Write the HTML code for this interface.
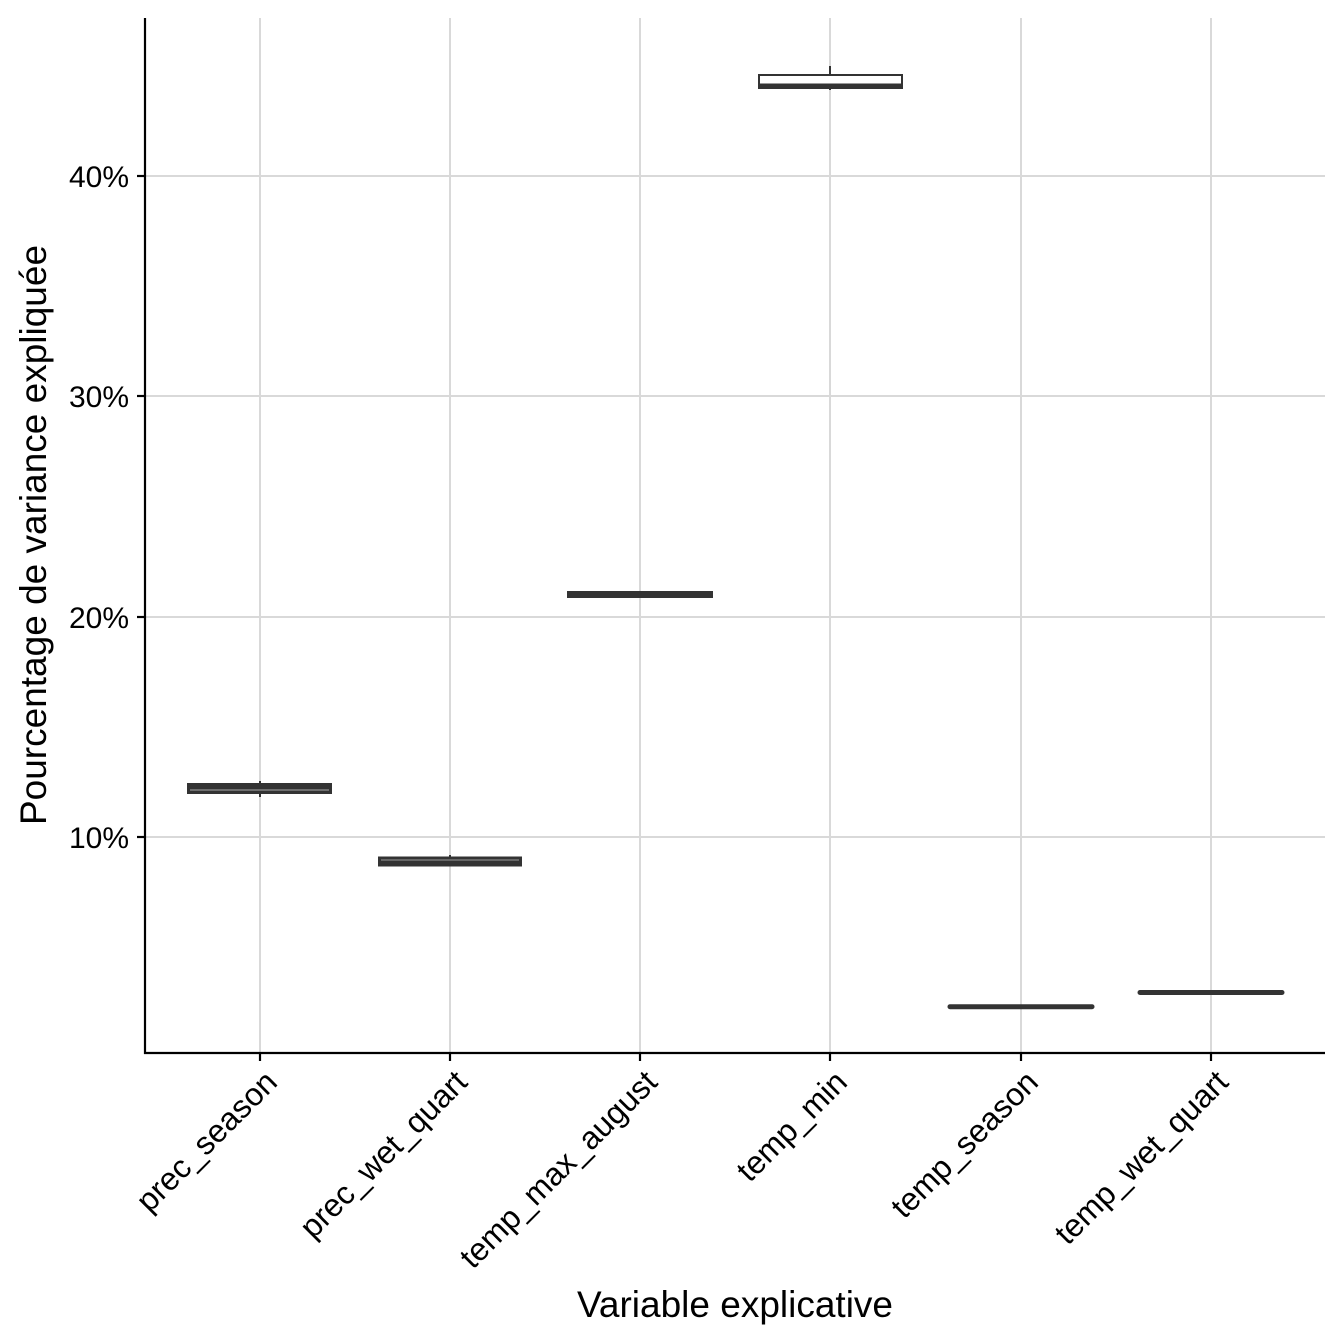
<!DOCTYPE html>
<html><head><meta charset="utf-8"><style>html,body{margin:0;padding:0;background:#fff}svg{display:block}</style></head>
<body>
<svg width="1344" height="1344" viewBox="0 0 1344 1344" xmlns="http://www.w3.org/2000/svg" font-family="Liberation Sans, Arial, sans-serif">
<rect width="1344" height="1344" fill="#fff"/>
<g stroke="#d9d9d9" stroke-width="2">
<line x1="145" x2="1325" y1="176" y2="176"/>
<line x1="145" x2="1325" y1="396" y2="396"/>
<line x1="145" x2="1325" y1="617" y2="617"/>
<line x1="145" x2="1325" y1="837" y2="837"/>
<line x1="260" x2="260" y1="18" y2="1053"/>
<line x1="450" x2="450" y1="18" y2="1053"/>
<line x1="640" x2="640" y1="18" y2="1053"/>
<line x1="830" x2="830" y1="18" y2="1053"/>
<line x1="1021" x2="1021" y1="18" y2="1053"/>
<line x1="1211" x2="1211" y1="18" y2="1053"/>
</g>
<g stroke="#333" stroke-width="2" fill="#333">
<line x1="260" x2="260" y1="781" y2="797"/>
<rect x="188" y="784" width="143" height="9"/>
<line x1="190" x2="329" y1="790" y2="790" stroke="#aaa" stroke-width="1"/>
<line x1="450" x2="450" y1="855" y2="864"/>
<rect x="379" y="857.5" width="142" height="8"/>
<line x1="381" x2="519" y1="860" y2="860" stroke="#999" stroke-width="1"/>
<rect x="568" y="592" width="144" height="5"/>
<line x1="830" x2="830" y1="66" y2="90"/>
<rect x="759" y="75" width="143" height="13" fill="#fff"/>
<line x1="759" x2="902" y1="86" y2="86" stroke-width="5"/>
<line x1="950" x2="1092" y1="1006.7" y2="1006.7" stroke-width="5" stroke-linecap="round"/>
<line x1="1140" x2="1282" y1="992.5" y2="992.5" stroke-width="5" stroke-linecap="round"/>
</g>
<g stroke="#000" stroke-width="2.2">
<line x1="145" x2="145" y1="18" y2="1054"/>
<line x1="144" x2="1325" y1="1053" y2="1053"/>
<line x1="137" x2="145" y1="176" y2="176"/>
<line x1="137" x2="145" y1="396" y2="396"/>
<line x1="137" x2="145" y1="617" y2="617"/>
<line x1="137" x2="145" y1="837" y2="837"/>
<line x1="260" x2="260" y1="1053" y2="1061"/>
<line x1="450" x2="450" y1="1053" y2="1061"/>
<line x1="640" x2="640" y1="1053" y2="1061"/>
<line x1="830" x2="830" y1="1053" y2="1061"/>
<line x1="1021" x2="1021" y1="1053" y2="1061"/>
<line x1="1211" x2="1211" y1="1053" y2="1061"/>
</g>
<g font-size="30" fill="#000" text-anchor="end">
<text x="129" y="187">40%</text>
<text x="129" y="407">30%</text>
<text x="129" y="628">20%</text>
<text x="129" y="848">10%</text>
</g>
<g font-size="32" fill="#000" text-anchor="end">
<text transform="translate(279,1084) rotate(-45)">prec_season</text>
<text transform="translate(469,1084) rotate(-45)">prec_wet_quart</text>
<text transform="translate(659,1084) rotate(-45)">temp_max_august</text>
<text transform="translate(849,1084) rotate(-45)">temp_min</text>
<text transform="translate(1040,1084) rotate(-45)">temp_season</text>
<text transform="translate(1230,1084) rotate(-45)">temp_wet_quart</text>
</g>
<text x="735" y="1317" font-size="37" text-anchor="middle" fill="#000">Variable explicative</text>
<text transform="translate(46,535) rotate(-90)" font-size="37" text-anchor="middle" fill="#000">Pourcentage de variance expliquée</text>
</svg>
</body></html>
